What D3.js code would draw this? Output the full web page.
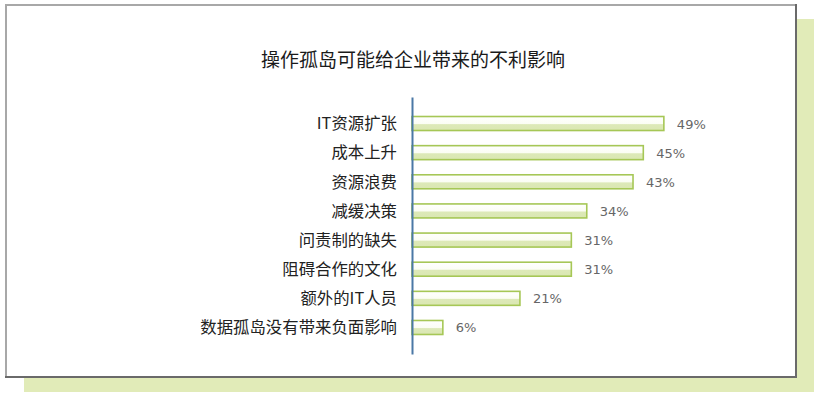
<!DOCTYPE html>
<html><head><meta charset="utf-8">
<script src="https://cdn.jsdelivr.net/npm/d3@7"></script>
<style>body{margin:0;background:#fff}svg{display:block}</style>
</head><body>
<script>
const title = "操作孤岛可能给企业带来的不利影响";
const categories = ["IT资源扩张","成本上升","资源浪费","减缓决策","问责制的缺失","阻碍合作的文化","额外的IT人员","数据孤岛没有带来负面影响"];
const values = [49,45,43,34,31,31,21,6];
const valueLabels = ["49%","45%","43%","34%","31%","31%","21%","6%"];

const W=822,H=401;
const svg=d3.select("body").append("svg").attr("width",W).attr("height",H);
const defs=svg.append("defs");
const g=defs.append("linearGradient").attr("id","barg").attr("x1",0).attr("y1",0).attr("x2",0).attr("y2",1);
[[0,"#ffffff"],[0.5,"#fbfdf4"],[0.58,"#dde9b8"],[1,"#dae7b2"]].forEach(s=>g.append("stop").attr("offset",s[0]).attr("stop-color",s[1]));

// shadow panel
svg.append("rect").attr("x",24).attr("y",19).attr("width",790).attr("height",373).attr("fill","#e1ebb8");
// main panel
svg.append("rect").attr("x",5).attr("y",4).attr("width",791).attr("height",373).attr("fill","#fff");
svg.append("path").attr("d","M6,377V5H796").attr("fill","none").attr("stroke","#a8a8a8").attr("stroke-width",2);
svg.append("path").attr("d","M796,4V377H5").attr("fill","none").attr("stroke","#6a6a6a").attr("stroke-width",2);

svg.append("text").attr("x",413).attr("y",67).attr("text-anchor","middle")
  .attr("font-family","'Noto Sans CJK SC'").attr("font-size",19).attr("fill","#1a1a1a").text(title);

const x=d3.scaleLinear().domain([0,100]).range([412,926]);
const y=d3.scalePoint().domain(categories).range([97,354]).padding(0.91);
const bh=14;

svg.selectAll("rect.bar").data(categories).join("rect").attr("class","bar")
  .attr("x",x(0)).attr("y",(d)=>y(d)-bh/2)
  .attr("width",(d,i)=>x(values[i])-x(0)).attr("height",bh)
  .attr("fill","url(#barg)").attr("stroke","#a6c756").attr("stroke-width",1.6);

svg.selectAll("text.val").data(categories).join("text").attr("class","val")
  .attr("x",(d,i)=>x(values[i])+13).attr("y",d=>y(d)+5)
  .attr("font-family","'DejaVu Sans'").attr("font-size",13).attr("fill","#666")
  .text((d,i)=>valueLabels[i]);

const ax=svg.append("g").attr("transform","translate(412,0)")
  .call(d3.axisLeft(y).tickSize(0).tickSizeOuter(0).tickPadding(15));
ax.select(".domain").attr("stroke","#4b78a6").attr("stroke-width",2);
ax.selectAll("text").attr("font-family","'Noto Sans CJK SC'").attr("font-size",16.4).attr("fill","#222");
</script>
</body></html>
